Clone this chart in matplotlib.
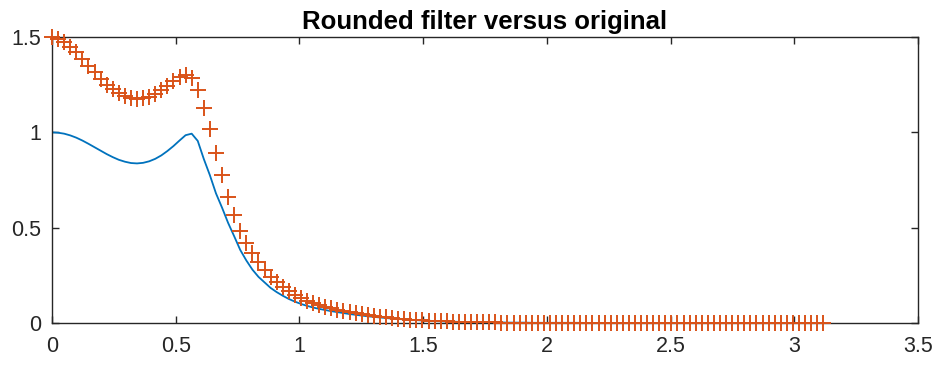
import numpy as np
import matplotlib
matplotlib.use("Agg")
import matplotlib.pyplot as plt

# Frequency grid: 128 points from 0 to pi (exclusive), step pi/128
n_points = 128
freq = np.arange(n_points) * np.pi / n_points

# Original filter magnitude (blue line)
original = [
    1.000, 0.998, 0.993, 0.984, 0.972, 0.957, 0.940, 0.922, 0.904, 0.886,
    0.870, 0.856, 0.846, 0.839, 0.837, 0.840, 0.848, 0.861, 0.879, 0.902,
    0.928, 0.957, 0.985, 0.993, 0.955, 0.860, 0.775, 0.680, 0.605, 0.525,
    0.455, 0.383, 0.328, 0.280, 0.242, 0.213, 0.184, 0.162, 0.143, 0.126,
    0.112, 0.100, 0.090, 0.081, 0.074, 0.068, 0.062, 0.057, 0.052, 0.047,
    0.043, 0.039, 0.035, 0.032, 0.029, 0.026, 0.023, 0.021, 0.019, 0.017,
    0.015, 0.013, 0.012, 0.010, 0.009, 0.008, 0.007, 0.006, 0.005, 0.005,
    0.004, 0.004, 0.003, 0.003, 0.003, 0.002, 0.002, 0.002, 0.002, 0.001,
    0.001, 0.001, 0.001, 0.001, 0.001, 0.001, 0.001, 0.001, 0.000, 0.000,
    0.000, 0.000, 0.000, 0.000, 0.000, 0.000, 0.000, 0.000, 0.000, 0.000,
    0.000, 0.000, 0.000, 0.000, 0.000, 0.000, 0.000, 0.000, 0.000, 0.000,
    0.000, 0.000, 0.000, 0.000, 0.000, 0.000, 0.000, 0.000, 0.000, 0.000,
    0.000, 0.000, 0.000, 0.000, 0.000, 0.000, 0.000, 0.000,
]

# Rounded filter magnitude (orange '+' markers)
rounded = [
    1.500, 1.490, 1.475, 1.450, 1.420, 1.385, 1.350, 1.315, 1.280, 1.250,
    1.225, 1.205, 1.190, 1.180, 1.175, 1.178, 1.185, 1.200, 1.220, 1.245,
    1.270, 1.290, 1.300, 1.285, 1.220, 1.130, 1.015, 0.893, 0.776, 0.660,
    0.566, 0.480, 0.418, 0.365, 0.321, 0.278, 0.243, 0.217, 0.190, 0.169,
    0.147, 0.130, 0.116, 0.104, 0.094, 0.085, 0.077, 0.069, 0.062, 0.056,
    0.051, 0.046, 0.041, 0.037, 0.033, 0.029, 0.026, 0.023, 0.020, 0.018,
    0.016, 0.014, 0.012, 0.010, 0.009, 0.008, 0.007, 0.006, 0.005, 0.004,
    0.004, 0.003, 0.003, 0.003, 0.002, 0.002, 0.002, 0.002, 0.001, 0.001,
    0.001, 0.001, 0.001, 0.001, 0.001, 0.001, 0.001, 0.001, 0.000, 0.000,
    0.000, 0.000, 0.000, 0.000, 0.000, 0.000, 0.000, 0.000, 0.000, 0.000,
    0.000, 0.000, 0.000, 0.000, 0.000, 0.000, 0.000, 0.000, 0.000, 0.000,
    0.000, 0.000, 0.000, 0.000, 0.000, 0.000, 0.000, 0.000, 0.000, 0.000,
    0.000, 0.000, 0.000, 0.000, 0.000, 0.000, 0.000, 0.000,
]

x_ticks = [0, 0.5, 1, 1.5, 2, 2.5, 3, 3.5]
x_tick_labels = ["0", "0.5", "1", "1.5", "2", "2.5", "3", "3.5"]
y_ticks = [0, 0.5, 1, 1.5]
y_tick_labels = ["0", "0.5", "1", "1.5"]
title = "Rounded filter versus original"

plt.rcParams['font.family'] = ['Liberation Sans', 'DejaVu Sans']

fig = plt.figure(figsize=(9.42, 3.65), dpi=100)
ax = fig.add_axes([52 / 942, 1 - 323 / 365, (918 - 52) / 942, (323 - 37) / 365])

ax.plot(freq, original, color='#0072BD', linewidth=1.3, zorder=2)
ax.plot(freq, rounded, linestyle='none', marker='+', markersize=11,
        markeredgewidth=1.4, color='#D95319', clip_on=False, zorder=3)

ax.set_xlim(0, 3.5)
ax.set_ylim(0, 1.5)
ax.set_xticks(x_ticks)
ax.set_xticklabels(x_tick_labels)
ax.set_yticks(y_ticks)
ax.set_yticklabels(y_tick_labels)

axis_color = '#262626'
for side in ['left', 'right', 'top', 'bottom']:
    ax.spines[side].set_color(axis_color)
    ax.spines[side].set_linewidth(1.0)
ax.tick_params(direction='in', length=5, width=1.0, colors=axis_color,
               labelsize=15.5, top=True, right=True)
ax.tick_params(axis='x', pad=9)
ax.tick_params(axis='y', pad=8)
for lbl in ax.get_xticklabels() + ax.get_yticklabels():
    lbl.set_color('#262626')

ax.set_title(title, fontsize=18.5, fontweight='bold', color='black', pad=6)

fig.savefig('out.png', dpi=100)
